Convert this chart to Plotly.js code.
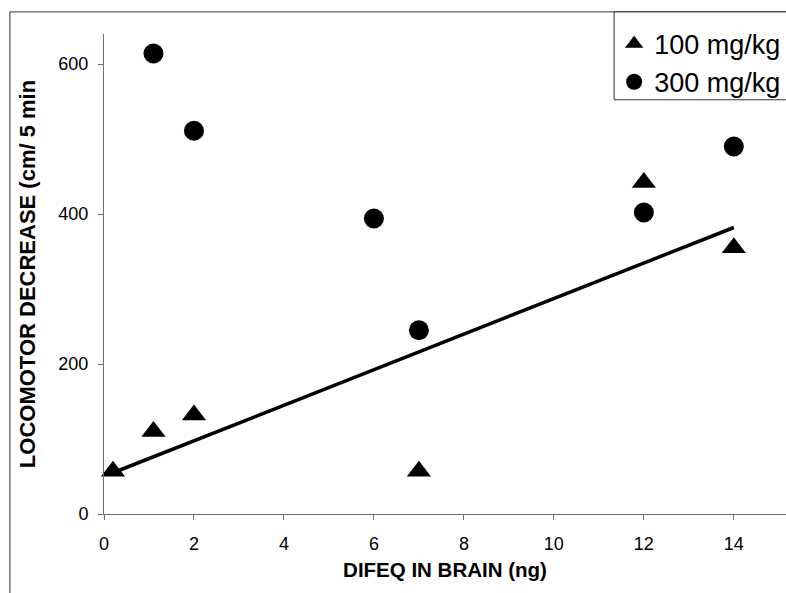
<!DOCTYPE html>
<html>
<head>
<meta charset="utf-8">
<script src="https://cdn.plot.ly/plotly-3.0.1.min.js"></script>
<style>
  html, body { margin: 0; padding: 0; background: #ffffff; overflow: hidden; }
  #chart { width: 786px; height: 593px; }
</style>
</head>
<body>
<div id="chart"></div>
<script>
// Data
const dose100X = [0.2, 1.1, 2, 7, 12, 14];
const dose100Y = [57, 110, 132, 57, 442, 355];
const dose300X = [1.1, 2, 6, 7, 12, 14];
const dose300Y = [614, 511, 394, 245, 402, 490];
const trendX = [0.2, 14];
const trendY = [55, 382];
const seriesNames = ['100 mg/kg', '300 mg/kg'];
const xTicks = [0, 2, 4, 6, 8, 10, 12, 14];
const yTicks = [0, 200, 400, 600];

const FONT = 'Liberation Sans, Arial, Helvetica, sans-serif';

const traces = [
  {
    x: dose100X, y: dose100Y, name: seriesNames[0],
    type: 'scatter', mode: 'markers',
    marker: { symbol: 'triangle-up', size: 21, color: '#000000' },
    cliponaxis: false
  },
  {
    x: dose300X, y: dose300Y, name: seriesNames[1],
    type: 'scatter', mode: 'markers',
    marker: { symbol: 'circle', size: 20, color: '#000000' },
    cliponaxis: false
  },
  {
    x: trendX, y: trendY, name: 'trend',
    type: 'scatter', mode: 'lines',
    line: { color: '#000000', width: 3.5 },
    showlegend: false
  }
];

const layout = {
  width: 786, height: 593,
  paper_bgcolor: '#ffffff', plot_bgcolor: '#ffffff',
  margin: { l: 104, r: 0, t: 34, b: 79, autoexpand: false },
  font: { family: FONT, color: '#000000' },
  showlegend: true,
  legend: {
    x: 0.748, y: 1.03, xanchor: 'left', yanchor: 'top',
    bgcolor: 'rgba(0,0,0,0)', borderwidth: 0,
    font: { family: FONT, size: 27, color: '#000000' },
    tracegroupgap: 0
  },
  xaxis: {
    range: [0, 15.16],
    tickvals: xTicks, ticktext: xTicks.map(String),
    showgrid: false, zeroline: false,
    showline: true, linecolor: '#707070', linewidth: 1,
    ticks: 'outside', ticklen: 5, tickcolor: '#707070',
    ticklabelstandoff: 8,
    tickfont: { family: FONT, size: 18, color: '#000000' },
    title: {
      text: 'DIFEQ IN BRAIN (ng)',
      font: { family: FONT, size: 20.5, color: '#000000', weight: 'bold' },
      standoff: 10
    },
    automargin: false
  },
  yaxis: {
    range: [0, 640],
    tickvals: yTicks, ticktext: yTicks.map(String),
    showgrid: false, zeroline: false,
    showline: true, linecolor: '#707070', linewidth: 1,
    ticks: 'outside', ticklen: 5, tickcolor: '#707070',
    ticklabelstandoff: 6,
    tickfont: { family: FONT, size: 18, color: '#000000' },
    title: {
      text: 'LOCOMOTOR DECREASE (cm/ 5 min',
      font: { family: FONT, size: 22, color: '#000000', weight: 'bold' },
      standoff: 16
    },
    automargin: false
  },
  shapes: [
    {
      type: 'rect', xref: 'paper', yref: 'paper',
      x0: -0.138, x1: 1.2, y0: -0.4, y1: 1.046,
      line: { color: '#333333', width: 1 },
      fillcolor: 'rgba(0,0,0,0)', layer: 'below'
    },
    {
      type: 'rect', xref: 'paper', yref: 'paper',
      x0: 0.748, x1: 1.2, y0: 0.863, y1: 1.046,
      line: { color: '#333333', width: 1 },
      fillcolor: '#ffffff', layer: 'below'
    }
  ]
};

Plotly.newPlot('chart', traces, layout, { displayModeBar: false, staticPlot: true });
</script>
</body>
</html>
